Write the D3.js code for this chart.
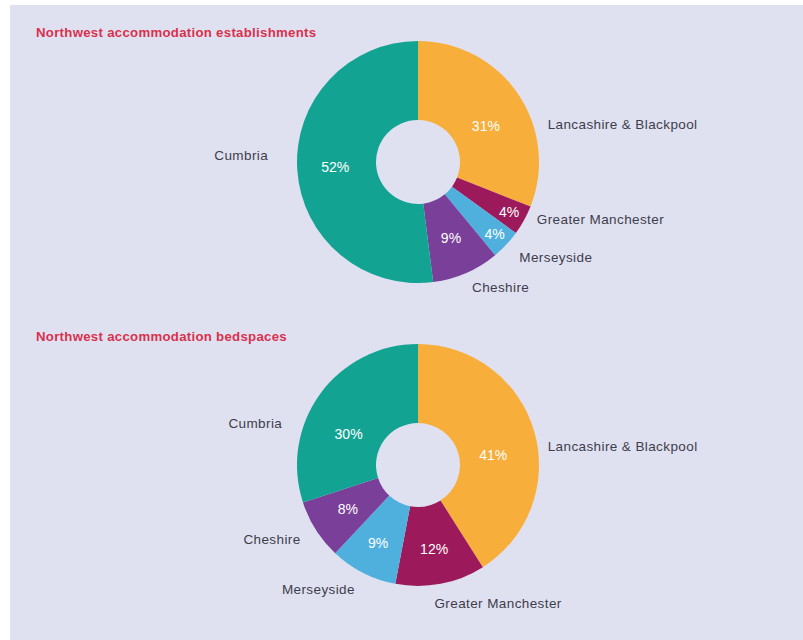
<!DOCTYPE html>
<html>
<head>
<meta charset="utf-8">
<script src="https://cdn.jsdelivr.net/npm/d3@7"></script>
<style>
  html, body { margin: 0; padding: 0; background: #ffffff; }
  svg { display: block; }
</style>
</head>
<body>
<svg id="chart" width="803" height="640"></svg>
<script>
// Regions in clockwise order starting at 12 o'clock
const regions = ["Lancashire & Blackpool", "Greater Manchester", "Merseyside", "Cheshire", "Cumbria"];
// Share of establishments (%)
const establishments = [31, 4, 4, 9, 52];
// Share of bedspaces (%)
const bedspaces = [41, 12, 9, 8, 30];
const titles = ["Northwest accommodation establishments", "Northwest accommodation bedspaces"];

const colors = {
  "Lancashire & Blackpool": "#f8ae3b",
  "Greater Manchester": "#9c1a5b",
  "Merseyside": "#4fb0de",
  "Cheshire": "#7a3f99",
  "Cumbria": "#13a393"
};

// Layout: ring geometry and label placement tweaks (degrees / pixels)
const layout = [
  {
    cy: 162, titleY: 37,
    nameAngle: { "Lancashire & Blackpool": 18, "Cumbria": 6, "Greater Manchester": -3 },
    nameRadius: { "Lancashire & Blackpool": 135, "Cumbria": 150, "Greater Manchester": 132, "Cheshire": 136 },
    pctAngle: { "Lancashire & Blackpool": 6 },
    pctRadius: { "Greater Manchester": 104, "Merseyside": 105, "Lancashire & Blackpool": 77 }
  },
  {
    cy: 465, titleY: 341,
    nameAngle: { "Lancashire & Blackpool": 8, "Cumbria": -19, "Greater Manchester": 4 },
    nameRadius: { "Lancashire & Blackpool": 131, "Cumbria": 142 },
    pctAngle: { "Lancashire & Blackpool": 8.5, "Cumbria": -12 },
    pctRadius: { "Lancashire & Blackpool": 76, "Cumbria": 76, "Merseyside": 88, "Greater Manchester": 86 }
  }
];

const svg = d3.select("#chart");
const W = 803, H = 640;
const cx = 418, rOuter = 121, rInner = 42, rName = 139, rPct = 83;

// panel background
svg.append("rect").attr("x", 10).attr("y", 5).attr("width", W - 10).attr("height", H - 5)
  .attr("fill", "#e0e1f0");

const pie = d3.pie().sort(null).value(d => d.value);
const arc = d3.arc().innerRadius(rInner).outerRadius(rOuter);

const font = "'Liberation Sans', Arial, Helvetica, sans-serif";

[establishments, bedspaces].forEach((values, i) => {
  const L = layout[i];
  const data = regions.map((r, k) => ({ region: r, value: values[k] }));

  svg.append("text")
    .attr("x", 36).attr("y", L.titleY)
    .attr("font-family", font).attr("font-weight", "bold").attr("font-size", 13.2)
    .attr("letter-spacing", 0.3)
    .attr("fill", "#d8314e")
    .text(titles[i]);

  const g = svg.append("g").attr("transform", `translate(${cx},${L.cy})`);
  const arcs = pie(data);

  g.selectAll("path").data(arcs).join("path")
    .attr("d", arc)
    .attr("fill", d => colors[d.data.region]);

  const polar = (a, r) => [Math.sin(a) * r, -Math.cos(a) * r];
  const rad = deg => deg * Math.PI / 180;

  // percentage labels inside the ring
  g.selectAll("text.pct").data(arcs).join("text")
    .attr("class", "pct")
    .each(function (d) {
      const a = (d.startAngle + d.endAngle) / 2 + rad(L.pctAngle[d.data.region] || 0);
      const r = L.pctRadius[d.data.region] || rPct;
      const [x, y] = polar(a, r);
      d3.select(this).attr("x", x).attr("y", y);
    })
    .attr("dy", "0.35em")
    .attr("text-anchor", "middle")
    .attr("font-family", font).attr("font-size", 14)
    .attr("fill", "#ffffff")
    .text(d => d.data.value + "%");

  // region names outside the ring
  g.selectAll("text.name").data(arcs).join("text")
    .attr("class", "name")
    .each(function (d) {
      const a = (d.startAngle + d.endAngle) / 2 + rad(L.nameAngle[d.data.region] || 0);
      const r = L.nameRadius[d.data.region] || rName;
      const [x, y] = polar(a, r);
      d3.select(this).attr("x", x).attr("y", y)
        .attr("text-anchor", Math.sin(a) >= 0 ? "start" : "end");
    })
    .attr("dy", "0.35em")
    .attr("font-family", font).attr("font-size", 13.5)
    .attr("letter-spacing", 0.4)
    .attr("fill", "#3d3d4d")
    .text(d => d.data.region);
});
</script>
</body>
</html>
